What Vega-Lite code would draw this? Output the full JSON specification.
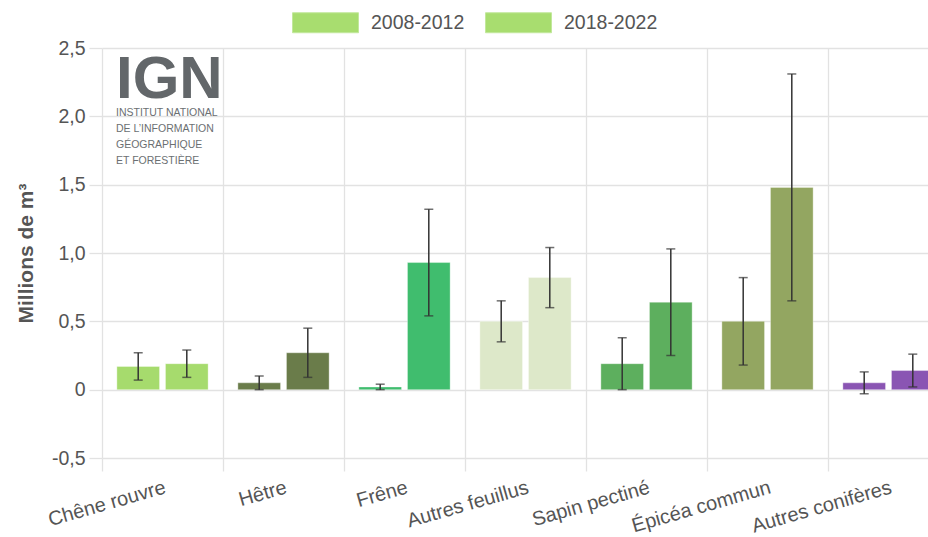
{
  "$schema": "https://vega.github.io/schema/vega-lite/v6.json",
  "autosize": {"type": "none"},
  "width": 826,
  "height": 410,
  "padding": {"left": 102, "top": 48, "right": 0, "bottom": 79},
  "config": {
    "view": {"stroke": null},
    "font": "Liberation Sans",
    "axis": {"gridColor": "#e2e2e2", "gridWidth": 1.3, "tickColor": "#e2e2e2", "tickWidth": 1.3, "domain": false, "labelColor": "#555555", "titleColor": "#555555", "labelFont": "Liberation Sans", "titleFont": "Liberation Sans"}
  },
  "title": {
    "text": "IGN",
    "subtitle": ["INSTITUT NATIONAL", "DE L’INFORMATION", "GÉOGRAPHIQUE", "ET FORESTIÈRE"],
    "anchor": "start",
    "frame": "group",
    "dx": 14,
    "dy": 182,
    "fontSize": 60,
    "fontWeight": "bold",
    "color": "#63676a",
    "subtitleFontSize": 10.5,
    "subtitleColor": "#6b6f72",
    "subtitleLineHeight": 16,
    "subtitlePadding": -3,
    "font": "Liberation Sans",
    "subtitleFont": "Liberation Sans"
  },
  "data": {
    "values": [
      {"species": "Chêne rouvre", "period": "2008-2012", "value": 0.17, "low": 0.07, "high": 0.27},
      {"species": "Chêne rouvre", "period": "2018-2022", "value": 0.19, "low": 0.09, "high": 0.29},
      {"species": "Hêtre", "period": "2008-2012", "value": 0.05, "low": 0.0, "high": 0.10},
      {"species": "Hêtre", "period": "2018-2022", "value": 0.27, "low": 0.09, "high": 0.45},
      {"species": "Frêne", "period": "2008-2012", "value": 0.02, "low": 0.0, "high": 0.04},
      {"species": "Frêne", "period": "2018-2022", "value": 0.93, "low": 0.54, "high": 1.32},
      {"species": "Autres feuillus", "period": "2008-2012", "value": 0.5, "low": 0.35, "high": 0.65},
      {"species": "Autres feuillus", "period": "2018-2022", "value": 0.82, "low": 0.60, "high": 1.04},
      {"species": "Sapin pectiné", "period": "2008-2012", "value": 0.19, "low": 0.0, "high": 0.38},
      {"species": "Sapin pectiné", "period": "2018-2022", "value": 0.64, "low": 0.25, "high": 1.03},
      {"species": "Épicéa commun", "period": "2008-2012", "value": 0.5, "low": 0.18, "high": 0.82},
      {"species": "Épicéa commun", "period": "2018-2022", "value": 1.48, "low": 0.65, "high": 2.31},
      {"species": "Autres conifères", "period": "2008-2012", "value": 0.05, "low": -0.03, "high": 0.13},
      {"species": "Autres conifères", "period": "2018-2022", "value": 0.14, "low": 0.02, "high": 0.26}
    ]
  },
  "encoding": {
    "x": {
      "field": "species",
      "type": "nominal",
      "sort": null,
      "title": null,
      "scale": {"range": [0, 847], "paddingInner": 0, "paddingOuter": 0},
      "axis": {
        "bandPosition": 0,
        "grid": true,
        "ticks": true,
        "tickSize": 13,
        "labelOffset": 0,
        "labelAngle": -16,
        "labelAlign": "right",
        "labelBaseline": "top",
        "labelPadding": 6,
        "labelFontSize": 20,
        "labelOverlap": false,
        "labelBound": false
      }
    },
    "xOffset": {"field": "period", "type": "nominal", "scale": {"paddingInner": 0.122, "paddingOuter": 0.306}}
  },
  "layer": [
    {
      "mark": {"type": "bar", "stroke": "#ffffff", "strokeOpacity": 0.35, "strokeWidth": 1},
      "encoding": {
        "y": {
          "field": "value",
          "type": "quantitative",
          "title": "Millions de m³",
          "scale": {"domain": [-0.5, 2.5], "nice": false},
          "axis": {
            "values": [-0.5, 0, 0.5, 1, 1.5, 2, 2.5],
            "ticks": true,
            "tickSize": 13,
            "labelPadding": 4,
            "labelFontSize": 19.5,
            "titleFontSize": 21,
            "titleFontWeight": "bold",
            "titlePadding": 15,
            "labelExpr": "datum.value == 0 ? '0' : (datum.value < 0 ? '-' : '') + replace(format(abs(datum.value), '.1f'), '.', ',')"
          }
        },
        "color": {
          "field": "species",
          "type": "nominal",
          "sort": null,
          "legend": null,
          "scale": {
            "domain": ["Chêne rouvre", "Hêtre", "Frêne", "Autres feuillus", "Sapin pectiné", "Épicéa commun", "Autres conifères"],
            "range": ["#a6db6d", "#6a7c4a", "#40bd6e", "#dde8c9", "#5daf5e", "#93a661", "#8a55b3"]
          }
        },
        "opacity": {
          "field": "period",
          "type": "nominal",
          "title": null,
          "scale": {"range": [1, 1]},
          "legend": {
            "orient": "none",
            "legendX": 190,
            "legendY": -59,
            "direction": "horizontal",
            "symbolType": "M-1,-0.303H1V0.303H-1Z",
            "symbolSize": 4356,
            "symbolFillColor": "#a8dd6f",
            "symbolStrokeColor": "#c2e89c",
            "symbolStrokeWidth": 1,
            "labelFontSize": 19.5,
            "labelColor": "#555555",
            "labelOffset": 12,
            "columnPadding": 18
          }
        }
      }
    },
    {
      "mark": {"type": "rule", "color": "#333333", "strokeWidth": 1.5},
      "encoding": {
        "y": {"field": "low", "type": "quantitative"},
        "y2": {"field": "high"}
      }
    },
    {
      "mark": {"type": "tick", "color": "#333333", "thickness": 1.5, "size": 9},
      "encoding": {"y": {"field": "low", "type": "quantitative"}}
    },
    {
      "mark": {"type": "tick", "color": "#333333", "thickness": 1.5, "size": 9},
      "encoding": {"y": {"field": "high", "type": "quantitative"}}
    }
  ]
}
